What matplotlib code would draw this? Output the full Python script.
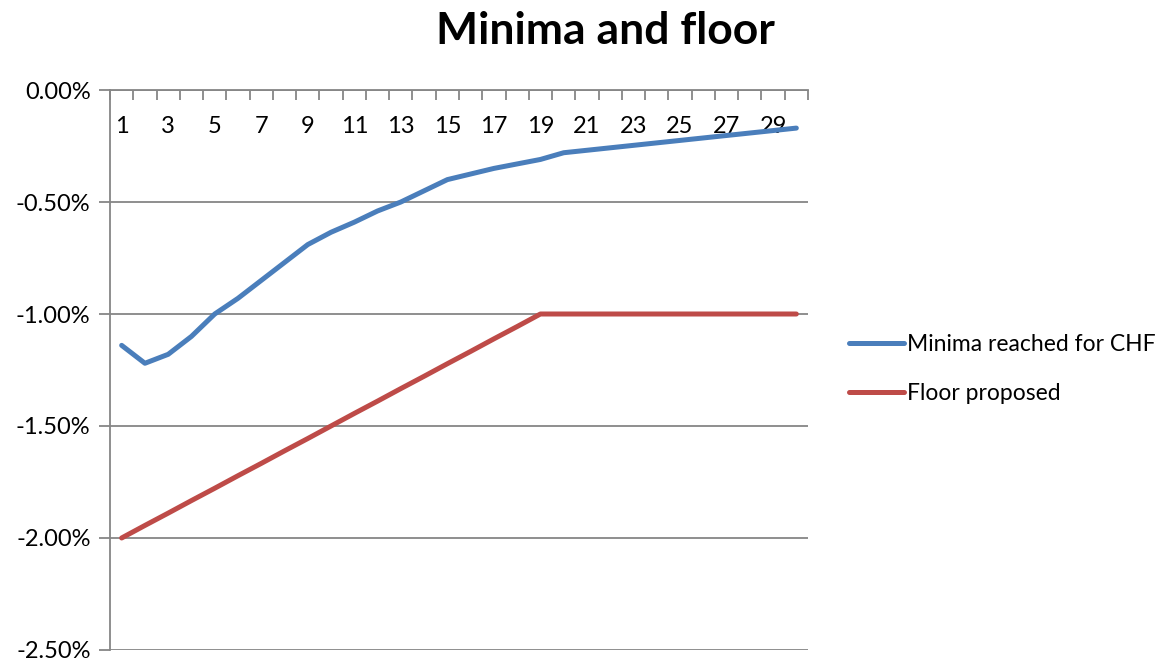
import numpy as np
import matplotlib.pyplot as plt
from matplotlib.ticker import FuncFormatter

plt.rcParams['font.family'] = ['Lato', 'DejaVu Sans']

# maturity buckets
days = np.arange(1, 31)

# minima reached for CHF, in percent
minima = [-1.14, -1.22, -1.18, -1.10, -1.00, -0.93, -0.85, -0.77, -0.69, -0.635,
          -0.59, -0.54, -0.50, -0.45, -0.40, -0.375, -0.35, -0.33, -0.31, -0.28,
          -0.269, -0.258, -0.247, -0.236, -0.225, -0.214, -0.203, -0.192, -0.181, -0.17]

# proposed floor, in percent
floor = [-2.00, -1.944, -1.889, -1.833, -1.778, -1.722, -1.667, -1.611, -1.556, -1.500,
         -1.444, -1.389, -1.333, -1.278, -1.222, -1.167, -1.111, -1.056, -1.00, -1.00,
         -1.00, -1.00, -1.00, -1.00, -1.00, -1.00, -1.00, -1.00, -1.00, -1.00]

series_names = ['Minima reached for CHF', 'Floor proposed']
colors = ['#4A7EBB', '#BE4B48']
axis_gray = '#868686'

fig = plt.figure(figsize=(11.73, 6.59), dpi=100)
ax = fig.add_axes([0.0938, 0.0137, 0.595, 0.8497])

ax.plot(days, minima, color=colors[0], lw=3.6, solid_capstyle='round',
        label=series_names[0])
ax.plot(days, floor, color=colors[1], lw=3.6, solid_capstyle='round',
        label=series_names[1])

ax.set_xlim(0.5, 30.5)
ax.set_ylim(-2.5, 0)

# category axis sits on the zero line
ax.spines['bottom'].set_position(('data', 0))
ax.spines['top'].set_visible(False)
ax.spines['right'].set_visible(False)
for s in ('bottom', 'left'):
    ax.spines[s].set_color(axis_gray)
    ax.spines[s].set_linewidth(1.3)

ax.set_xticks(days[::2])
ax.set_xticklabels([str(d) for d in days[::2]])
ax.set_xticks(np.arange(0.5, 31, 1), minor=True)
ax.tick_params(axis='x', which='major', length=0, pad=19, labelsize=17)
ax.tick_params(axis='x', which='minor', length=7, direction='out',
               color=axis_gray, width=1.3)

ax.set_yticks(np.arange(-2.5, 0.01, 0.5))
ax.yaxis.set_major_formatter(FuncFormatter(lambda v, p: f"{abs(v) if abs(v) < 1e-9 else v:.2f}%"))
ax.tick_params(axis='y', length=8, color=axis_gray, width=1.3, labelsize=17, pad=6)
ax.grid(axis='y', color=axis_gray, lw=1.3)
ax.set_axisbelow(True)

fig.suptitle('Minima and floor', x=0.516, y=0.983, fontsize=32, fontweight='bold')

fig.legend(loc='center left', bbox_to_anchor=(0.706, 0.44), frameon=False,
           fontsize=16.5, handlelength=2.4, handletextpad=0.15, labelspacing=1.25)

fig.savefig('out.png', dpi=100)
